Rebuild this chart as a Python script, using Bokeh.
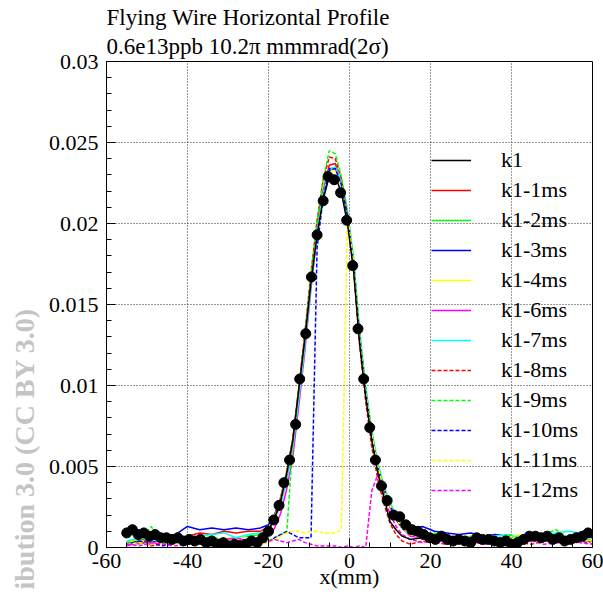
import math
from bokeh.plotting import figure
from bokeh.models import Legend, LegendItem, Title, FixedTicker, CustomJSTickFormatter, Range1d
from bokeh.embed import file_html
from bokeh.resources import INLINE

FONT = "Liberation Serif"

# ---------------- data ----------------
X_LINE = [-55, -52, -49, -46, -43, -40, -37, -34, -31, -28, -25, -22,
          -20, -18.5, -17, -15.5, -14, -12.5, -11, -9.5, -8, -6.5, -5, -3.5, -2, -0.5,
          1, 2.5, 4, 5.5, 7, 8.5, 10, 11.5, 13,
          15, 18, 21, 24, 27, 30, 33, 36, 39, 42, 45, 48, 51, 54, 57, 60]

K1 = [0.0009, 0.0008, 0.0007, 0.0006, 0.0005, 0.0005, 0.0004, 0.0003, 0.0002, 0.0002, 0.0003, 0.0006,
      0.0011, 0.0018, 0.0029, 0.0046, 0.0066, 0.0098, 0.0129, 0.0164, 0.0193, 0.0215, 0.0229, 0.0229, 0.0219, 0.0200,
      0.0171, 0.0126, 0.0093, 0.0066, 0.0046, 0.0031, 0.0016, 0.0011, 0.0007,
      0.0005, 0.0006, 0.0005, 0.0005, 0.0004, 0.0004, 0.0005, 0.0004, 0.0003, 0.0003, 0.0006, 0.0006, 0.0005, 0.0005, 0.0006, 0.0009]

K1_1MS = [0.0003, 0.0005, 0.0004, 0.0006, 0.0005, 0.0007, 0.0009, 0.0008, 0.0010, 0.0009, 0.0010, 0.0010,
          0.0013, 0.0020, 0.0031, 0.0047, 0.0067, 0.0099, 0.0131, 0.0167, 0.0197, 0.0220, 0.0236, 0.0237, 0.0224, 0.0203,
          0.0173, 0.0128, 0.0095, 0.0068, 0.0048, 0.0035, 0.0025, 0.0017, 0.0012,
          0.0009, 0.0008, 0.0006, 0.0007, 0.0005, 0.0006, 0.0007, 0.0005, 0.0006, 0.0004, 0.0005, 0.0006, 0.0004, 0.0005, 0.0004, 0.0005]

K1_2MS = [0.0004, 0.0002, 0.0005, 0.0003, 0.0006, 0.0004, 0.0005, 0.0007, 0.0004, 0.0006, 0.0007, 0.0008,
          0.0012, 0.0019, 0.0029, 0.0045, 0.0064, 0.0096, 0.0128, 0.0165, 0.0196, 0.0219, 0.0233, 0.0234, 0.0223, 0.0204,
          0.0174, 0.0129, 0.0096, 0.0069, 0.0049, 0.0036, 0.0026, 0.0018, 0.0012,
          0.0008, 0.0006, 0.0007, 0.0005, 0.0006, 0.0004, 0.0005, 0.0006, 0.0005, 0.0007, 0.0005, 0.0006, 0.0007, 0.0005, 0.0006, 0.0004]

K1_3MS = [0.0002, 0.0004, 0.0003, 0.0005, 0.0008, 0.0013, 0.0011, 0.0012, 0.0011, 0.0012, 0.0011, 0.0012,
          0.0014, 0.0020, 0.0030, 0.0046, 0.0066, 0.0097, 0.0129, 0.0166, 0.0196, 0.0218, 0.0234, 0.0234, 0.0224, 0.0205,
          0.0176, 0.0131, 0.0097, 0.0070, 0.0051, 0.0037, 0.0027, 0.0019, 0.0014,
          0.0011, 0.0013, 0.0010, 0.0009, 0.0008, 0.0009, 0.0007, 0.0008, 0.0007, 0.0006, 0.0007, 0.0008, 0.0007, 0.0006, 0.0007, 0.0006]

K1_4MS = [0.0003, 0.0005, 0.0002, 0.0004, 0.0003, 0.0005, 0.0003, 0.0004, 0.0006, 0.0005, 0.0008, 0.0009,
          0.0012, 0.0019, 0.0030, 0.0047, 0.0066, 0.0098, 0.0130, 0.0166, 0.0195, 0.0218, 0.0232, 0.0233, 0.0223, 0.0203,
          0.0174, 0.0129, 0.0096, 0.0069, 0.0049, 0.0036, 0.0026, 0.0018, 0.0012,
          0.0008, 0.0007, 0.0005, 0.0006, 0.0004, 0.0005, 0.0006, 0.0005, 0.0004, 0.0008, 0.0005, 0.0004, 0.0006, 0.0005, 0.0003, 0.0005]

K1_6MS = [0.0001, 0.0003, 0.0002, 0.0004, 0.0005, 0.0003, 0.0006, 0.0004, 0.0005, 0.0006, 0.0004, 0.0005,
          0.0007, 0.0012, 0.0021, 0.0036, 0.0056, 0.0088, 0.0122, 0.0160, 0.0193, 0.0217, 0.0233, 0.0234, 0.0225, 0.0205,
          0.0176, 0.0131, 0.0097, 0.0070, 0.0050, 0.0037, 0.0027, 0.0018, 0.0012,
          0.0007, 0.0006, 0.0006, 0.0004, 0.0005, 0.0003, 0.0005, 0.0004, 0.0003, 0.0005, 0.0004, 0.0006, 0.0003, 0.0004, 0.0005, 0.0003]

K1_7MS = [0.0004, 0.0006, 0.0005, 0.0003, 0.0004, 0.0006, 0.0007, 0.0008, 0.0009, 0.0006, 0.0008, 0.0009,
          0.0011, 0.0017, 0.0026, 0.0041, 0.0061, 0.0092, 0.0125, 0.0162, 0.0194, 0.0218, 0.0233, 0.0235, 0.0226, 0.0207,
          0.0179, 0.0134, 0.0100, 0.0072, 0.0052, 0.0038, 0.0028, 0.0020, 0.0014,
          0.0010, 0.0008, 0.0007, 0.0006, 0.0007, 0.0005, 0.0006, 0.0007, 0.0008, 0.0006, 0.0007, 0.0008, 0.0009, 0.0010, 0.0009, 0.0008]

K1_8MS = [0.0002, 0.0003, 0.0001, 0.0002, 0.0004, 0.0002, 0.0003, 0.0005, 0.0002, 0.0004, 0.0005, 0.0006,
          0.0010, 0.0017, 0.0028, 0.0045, 0.0066, 0.0099, 0.0133, 0.0170, 0.0202, 0.0227, 0.0241, 0.0240, 0.0228, 0.0206,
          0.0173, 0.0125, 0.0090, 0.0062, 0.0042, 0.0027, 0.0015, 0.0008, 0.0004,
          0.0002, 0.0004, 0.0003, 0.0002, 0.0003, 0.0004, 0.0002, 0.0003, 0.0004, 0.0003, 0.0002, 0.0004, 0.0003, 0.0002, 0.0004, 0.0003]

K1_9MS = [0.0003, 0.0004, 0.0013, 0.0002, 0.0005, 0.0003, 0.0004, 0.0002, 0.0003, 0.0004, 0.0002, 0.0005,
          0.0004, 0.0006, 0.0008, 0.0009, 0.0064, 0.0097, 0.0131, 0.0168, 0.0201, 0.0227, 0.0245, 0.0243, 0.0229, 0.0208,
          0.0178, 0.0132, 0.0098, 0.0071, 0.0051, 0.0037, 0.0026, 0.0018, 0.0012,
          0.0008, 0.0007, 0.0009, 0.0006, 0.0005, 0.0007, 0.0006, 0.0005, 0.0008, 0.0007, 0.0006, 0.0008, 0.0011, 0.0006, 0.0007, 0.0009]

K1_10MS = [0.0002, 0.0004, 0.0003, 0.0001, 0.0003, 0.0002, 0.0004, 0.0003, 0.0002, 0.0003, 0.0004, 0.0003,
           0.0003, 0.0006, 0.0008, 0.0010, 0.0008, 0.0006, 0.0006, 0.0006, 0.0185, 0.0216, 0.0233, 0.0234, 0.0224, 0.0204,
           0.0175, 0.0130, 0.0096, 0.0069, 0.0049, 0.0036, 0.0026, 0.0018, 0.0012,
           0.0008, 0.0007, 0.0005, 0.0006, 0.0004, 0.0005, 0.0006, 0.0004, 0.0005, 0.0003, 0.0005, 0.0004, 0.0006, 0.0005, 0.0004, 0.0003]

K1_11MS = [0.0002, 0.0003, 0.0002, 0.0004, 0.0002, 0.0003, 0.0002, 0.0003, 0.0001, 0.0002, 0.0003, 0.0002,
           0.0003, 0.0005, 0.0007, 0.0009, 0.0010, 0.0010, 0.0009, 0.0010, 0.0010, 0.0009, 0.0009, 0.0009, 0.0011, 0.0205,
           0.0176, 0.0130, 0.0096, 0.0070, 0.0050, 0.0036, 0.0026, 0.0018, 0.0012,
           0.0008, 0.0006, 0.0005, 0.0007, 0.0005, 0.0004, 0.0006, 0.0005, 0.0006, 0.0008, 0.0004, 0.0005, 0.0006, 0.0004, 0.0005, 0.0003]

K1_12MS = [0.0002, 0.0001, 0.0003, 0.0002, 0.0001, 0.0002, 0.0003, 0.0001, 0.0002, 0.0001, 0.0002, 0.0003,
           0.0004, 0.0005, 0.0004, 0.0003, 0.0004, 0.0005, 0.0003, 0.0002, 0.0001, 0.0001, 0.0001, 0.0001, 0.0000, 0.0001,
           0.0000, 0.0001, 0.0000, 0.0035, 0.0045, 0.0032, 0.0021, 0.0013, 0.0008,
           0.0005, 0.0003, 0.0004, 0.0002, 0.0003, 0.0004, 0.0002, 0.0003, 0.0002, 0.0003, 0.0004, 0.0002, 0.0003, 0.0004, 0.0003, 0.0002]

DOT_X = [-55.0, -53.6, -52.2, -50.8, -49.4, -48.0, -46.6, -45.2, -43.8, -42.4, -41.0, -39.6, -38.2, -36.8, -35.4,
         -34.0, -32.6, -31.2, -29.8, -28.4, -27.0, -25.6, -24.2, -22.8, -21.4, -20.0, -18.7, -17.4, -16.2, -14.8,
         -13.3, -12.3, -10.8, -9.4, -8.0, -6.5, -5.3, -3.8, -2.2, -0.7, 0.8, 2.1, 3.5, 5.0, 6.4,
         7.9, 9.3, 10.9, 12.4, 13.9, 15.4, 16.9, 18.3, 19.8, 21.2, 22.7, 24.1, 25.6, 27.0, 28.5,
         29.9, 31.4, 32.8, 34.3, 35.7, 37.2, 38.6, 40.1, 41.5, 43.0, 44.4, 45.9, 47.3, 48.8, 50.2,
         51.7, 53.1, 54.6, 56.0, 57.5, 58.9]
DOT_Y = [0.0009, 0.0011, 0.0008, 0.0009, 0.0007, 0.0008, 0.0006, 0.0006, 0.0005, 0.0006, 0.0004, 0.0005, 0.0004, 0.0005, 0.0003,
         0.0004, 0.0002, 0.0003, 0.0001, 0.0002, 0.0001, 0.0002, 0.0004, 0.0003, 0.0006, 0.0010, 0.0017, 0.0026, 0.0040, 0.0054,
         0.0076, 0.0104, 0.0132, 0.0167, 0.0193, 0.0214, 0.0229, 0.0227, 0.0219, 0.0202, 0.0174, 0.0135, 0.0104, 0.0074, 0.0054,
         0.0038, 0.0029, 0.0020, 0.0019, 0.0014, 0.0011, 0.0010, 0.0008, 0.0006, 0.0005, 0.0007, 0.0005, 0.0004, 0.0005, 0.0004,
         0.0003, 0.0006, 0.0005, 0.0005, 0.0004, 0.0003, 0.0004, 0.0002, 0.0003, 0.0005, 0.0007, 0.0007, 0.0006, 0.0007, 0.0005,
         0.0006, 0.0004, 0.0005, 0.0006, 0.0007, 0.0009]

X_TICKS = [-60, -40, -20, 0, 20, 40, 60]
Y_TICKS = [0, 0.005, 0.01, 0.015, 0.02, 0.025, 0.03]

SERIES = [
    ("k1-1ms", K1_1MS, "#ff0000", "solid"),
    ("k1-2ms", K1_2MS, "#00ff00", "solid"),
    ("k1-3ms", K1_3MS, "#0000ff", "solid"),
    ("k1-4ms", K1_4MS, "#ffff00", "solid"),
    ("k1-6ms", K1_6MS, "#ff00ff", "solid"),
    ("k1-7ms", K1_7MS, "#00ffff", "solid"),
    ("k1-8ms", K1_8MS, "#ff0000", "4 2"),
    ("k1-9ms", K1_9MS, "#00ff00", "4 2"),
    ("k1-10ms", K1_10MS, "#0000ff", "4 2"),
    ("k1-11ms", K1_11MS, "#ffff00", "4 2"),
    ("k1-12ms", K1_12MS, "#ff00ff", "4 2"),
]

for _n, _ys, _c, _d in SERIES:
    if len(_ys) != len(X_LINE):
        raise ValueError(_n + " has %d values" % len(_ys))
if len(K1) != len(X_LINE) or len(DOT_X) != len(DOT_Y):
    raise ValueError("length mismatch")

# ---------------- figure ----------------
p = figure(width=603, height=597, output_backend="svg", toolbar_location=None,
           x_range=Range1d(-60, 60), y_range=Range1d(0, 0.03),
           min_border_left=105, min_border_right=11, min_border_top=61, min_border_bottom=50)
p.background_fill_color = "white"
p.border_fill_color = "white"
p.outline_line_color = "black"
p.outline_line_width = 1

xt = FixedTicker(ticks=X_TICKS, minor_ticks=[v for v in range(-55, 60, 5) if v % 20 != 0])
yt = FixedTicker(ticks=Y_TICKS, minor_ticks=[i / 1000 for i in range(31) if i % 5 != 0])
p.xaxis.ticker = xt
p.yaxis.ticker = yt
p.xgrid.ticker = xt
p.ygrid.ticker = yt
p.xaxis.formatter = CustomJSTickFormatter(code="return tick.toFixed(0);")
p.yaxis.formatter = CustomJSTickFormatter(
    code="var s = tick.toFixed(3); s = s.replace(/0+$/, ''); s = s.replace(/\\.$/, ''); return s;")

for ax in (p.xaxis[0], p.yaxis[0]):
    ax.major_tick_in = 9
    ax.major_tick_out = 0
    ax.minor_tick_in = 5
    ax.minor_tick_out = 0
    ax.major_tick_line_color = "black"
    ax.minor_tick_line_color = "black"
    ax.axis_line_color = "black"
    ax.major_label_text_font = FONT
    ax.major_label_text_font_size = "22px"
    ax.major_label_text_color = "black"
p.xaxis.major_label_standoff = 6
p.yaxis.major_label_standoff = 8
p.xaxis.axis_label = "x(mm)"
p.xaxis.axis_label_text_font = FONT
p.xaxis.axis_label_text_font_size = "22px"
p.xaxis.axis_label_text_font_style = "normal"
p.xaxis.axis_label_text_color = "black"
p.xaxis.axis_label_standoff = -7

for g in (p.xgrid[0], p.ygrid[0]):
    g.grid_line_color = "#333333"
    g.grid_line_dash = "1 2"
    g.grid_line_width = 1

renderers = {}
for name, ys, color, dash in SERIES:
    renderers[name] = p.line(X_LINE, ys, line_color=color, line_width=1.5, line_dash=dash)
renderers["k1"] = p.line(X_LINE, K1, line_color="black", line_width=1.5)
p.scatter(DOT_X, DOT_Y, marker="circle", size=10, fill_color="black", line_color="black")

order = ["k1"] + [s[0] for s in SERIES]
legend = Legend(items=[LegendItem(label=n, renderers=[renderers[n]]) for n in order],
                location=(325, 42), orientation="vertical",
                glyph_width=40, glyph_height=30, label_height=30, label_standoff=30,
                spacing=0, padding=0, margin=0,
                border_line_alpha=0, background_fill_alpha=0)
legend.label_text_font = FONT
legend.label_text_font_size = "22px"
legend.label_text_color = "black"
p.add_layout(legend)

# titles (first added sits nearest the frame)
p.add_layout(Title(text="0.6e13ppb 10.2\u03c0 mmmrad(2\u03c3)", align="left", standoff=5,
                   text_font=FONT, text_font_size="23px", text_font_style="normal",
                   text_color="black"), "above")
p.add_layout(Title(text="Flying Wire Horizontal Profile", align="left", standoff=0,
                   text_font=FONT, text_font_size="23px", text_font_style="normal",
                   text_color="black"), "above")

# faint rotated watermark on the left edge
p.add_layout(Title(text="ibution 3.0 (CC BY 3.0)", align="left", offset=-42, standoff=12,
                   text_font=FONT, text_font_size="28px", text_font_style="bold",
                   text_color="#c4c4c4"), "left")

open("out.html", "w").write(file_html(p, INLINE))
